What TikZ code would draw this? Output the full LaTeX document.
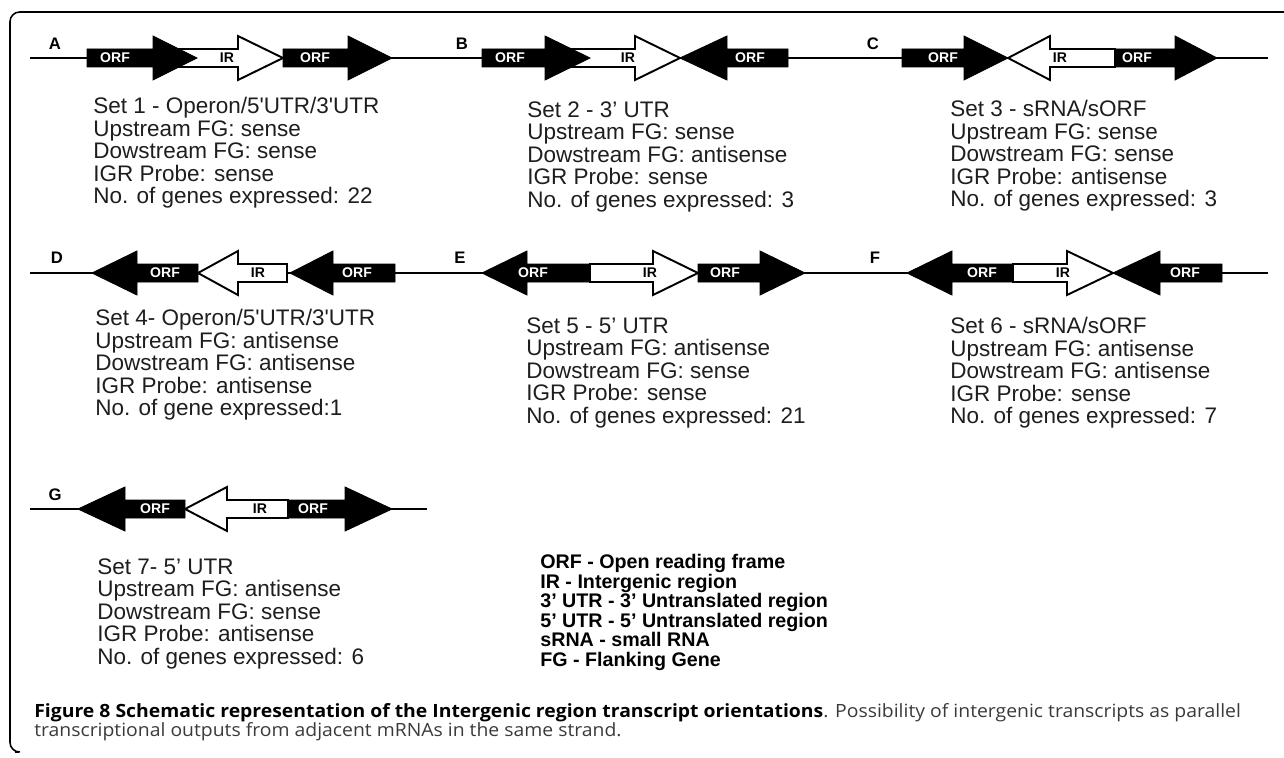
\documentclass[tikz,border=0pt]{standalone}
\usepackage{fontspec}
\setmainfont{Liberation Sans}
\newfontfamily\capfont[FakeStretch=1.06]{Open Sans}
\usetikzlibrary{positioning}
\definecolor{darktext}{HTML}{1E1E1E}
\definecolor{capgrey}{HTML}{3A3A3A}

% one gene arrow: [style]{tail x}{head base x}{tip x}{strand y}
\newcommand{\genearrow}[5][orf]{%
  \filldraw[#1] ({#2},{#5-9}) -- ({#3},{#5-9}) -- ({#3},{#5-22}) -- ({#4},{#5})
    -- ({#3},{#5+22}) -- ({#3},{#5+9}) -- ({#2},{#5+9}) -- cycle;}

\begin{document}
\begin{tikzpicture}[x=0.02cm,y=-0.02cm,
  orf/.style={fill=black,draw=black,line width=0.5pt},
  ir/.style={fill=white,draw=black,line width=1.1pt},
  strand/.style={draw=black,line width=1.1pt},
  tag/.style={inner sep=0pt,font=\bfseries\fontsize{8}{9}\selectfont},
  orf tag/.style={tag,text=white},
  panel/.style={inner sep=0pt,font=\bfseries\fontsize{9.5}{10}\selectfont},
  settext/.style={anchor=north west,inner sep=0pt,align=left,text=darktext,
    font=\fontsize{12.8}{12.8}\selectfont},
  legendtext/.style={anchor=north west,inner sep=0pt,align=left,
    font=\bfseries\fontsize{11.2}{11.1}\selectfont}]

  \useasboundingbox (0,0) rectangle (1284,757);
  \draw[line width=0.9pt,rounded corners=5.5pt] (1284,12) -- (10,12) -- (10,752) -- (15,752);

  % strands
  \draw[strand] (30,58) -- (1268,58);
  \draw[strand] (30,273) -- (1268,273);
  \draw[strand] (30,509) -- (427,509);

  % row 1
  \genearrow[ir]{175}{238}{283}{58}
  \genearrow{87}{153}{197}{58}
  \genearrow{283}{348}{392}{58}
  \genearrow[ir]{568}{635}{680}{58}
  \genearrow{482}{545}{590}{58}
  \genearrow{788}{727}{680}{58}
  \genearrow[ir]{1115}{1050}{1008}{58}
  \genearrow{902}{964}{1008}{58}
  \genearrow{1115}{1175}{1217}{58}

  % row 2
  \genearrow[ir]{287}{238}{198}{273}
  \genearrow{198}{137}{92}{273}
  \genearrow{395}{333}{290}{273}
  \genearrow[ir]{590}{653}{698}{273}
  \genearrow{590}{527}{482}{273}
  \genearrow{698}{760}{805}{273}
  \genearrow[ir]{1013}{1067}{1113}{273}
  \genearrow{1013}{952}{907}{273}
  \genearrow{1222}{1160}{1113}{273}

  % row 3
  \genearrow[ir]{288}{227}{185}{509}
  \genearrow{185}{125}{78}{509}
  \genearrow{288}{345}{392}{509}

  % panel letters
  \node[panel] (pA) at (55,44) {A};
  \node[panel] (pB) at (462,44) {B};
  \node[panel] (pC) at (873,44) {C};
  \node[panel] (pD) at (57,258) {D};
  \node[panel] (pE) at (460,258) {E};
  \node[panel] (pF) at (875,258) {F};
  \node[panel] (pG) at (55,495) {G};

  % region tags
  \node[orf tag] (a1) at (115,58) {ORF};
  \node[tag] (a2) at (227,58) {IR};
  \node[orf tag] (a3) at (315,58) {ORF};
  \node[orf tag] (b1) at (510,58) {ORF};
  \node[tag] (b2) at (628,58) {IR};
  \node[orf tag] (b3) at (750,58) {ORF};
  \node[orf tag] (c1) at (943,58) {ORF};
  \node[tag] (c2) at (1060,58) {IR};
  \node[orf tag] (c3) at (1137,58) {ORF};
  \node[orf tag] (d1) at (165,273) {ORF};
  \node[tag] (d2) at (258,273) {IR};
  \node[orf tag] (d3) at (357,273) {ORF};
  \node[orf tag] (e1) at (533,273) {ORF};
  \node[tag] (e2) at (650,273) {IR};
  \node[orf tag] (e3) at (725,273) {ORF};
  \node[orf tag] (f1) at (982,273) {ORF};
  \node[tag] (f2) at (1063,273) {IR};
  \node[orf tag] (f3) at (1185,273) {ORF};
  \node[orf tag] (g1) at (155,509) {ORF};
  \node[tag] (g2) at (260,509) {IR};
  \node[orf tag] (g3) at (313,509) {ORF};

  % set descriptions
  \node[settext] (set1) at (93,97) {Set 1 - Operon/5\textquotesingle UTR/3\textquotesingle UTR\\
    Upstream FG: sense\\Dowstream FG: sense\\IGR Probe: sense\\No. of genes expressed: 22};
  \node[settext] (set2) at (527,101) {Set 2 - 3’ UTR\\
    Upstream FG: sense\\Dowstream FG: antisense\\IGR Probe: sense\\No. of genes expressed: 3};
  \node[settext] (set3) at (950,100) {Set 3 - sRNA/sORF\\
    Upstream FG: sense\\Dowstream FG: sense\\IGR Probe: antisense\\No. of genes expressed: 3};
  \node[settext] (set4) at (95,309) {Set 4- Operon/5\textquotesingle UTR/3\textquotesingle UTR\\
    Upstream FG: antisense\\Dowstream FG: antisense\\IGR Probe: antisense\\No. of gene expressed:1};
  \node[settext] (set5) at (526,317) {Set 5 - 5’ UTR\\
    Upstream FG: antisense\\Dowstream FG: sense\\IGR Probe: sense\\No. of genes expressed: 21};
  \node[settext] (set6) at (950,317) {Set 6 - sRNA/sORF\\
    Upstream FG: antisense\\Dowstream FG: antisense\\IGR Probe: sense\\No. of genes expressed: 7};
  \node[settext] (set7) at (97,558) {Set 7- 5’ UTR\\
    Upstream FG: antisense\\Dowstream FG: sense\\IGR Probe: antisense\\No. of genes expressed: 6};

  % legend
  \node[legendtext] (legend) at (540,554) {ORF - Open reading frame\\IR - Intergenic region\\
    3’ UTR - 3’ Untranslated region\\5’ UTR - 5’ Untranslated region\\sRNA - small RNA\\FG - Flanking Gene};

  % caption
  \node[anchor=base west,inner sep=0pt,font=\capfont\fontsize{10.4}{12}\selectfont] (cap1) at (34,717)
    {\textbf{Figure 8 Schematic representation of the Intergenic region transcript orientations}\textcolor{capgrey}{. Possibility of intergenic transcripts as parallel}};
  \node[anchor=base west,inner sep=0pt,font=\capfont\fontsize{10.4}{12}\selectfont,text=capgrey] (cap2) at (34,736)
    {transcriptional outputs from adjacent mRNAs in the same strand.};
\end{tikzpicture}
\end{document}
